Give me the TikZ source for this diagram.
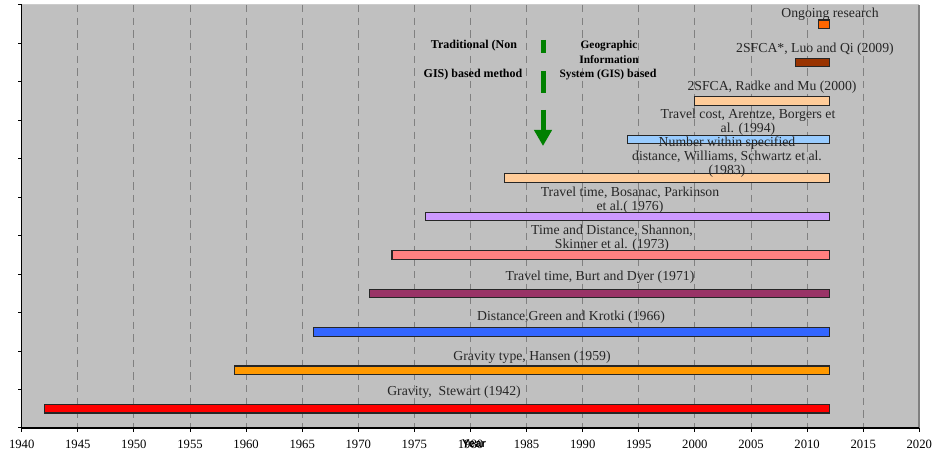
\documentclass[tikz,border=0pt]{standalone}
\usepackage{fontspec}
\setmainfont{Liberation Serif}
\newfontfamily\axisfont{Liberation Sans}
\usepackage{xcolor}
\usetikzlibrary{arrows.meta,positioning}

\definecolor{plotgray}{HTML}{C0C0C0}
\definecolor{gridgray}{HTML}{808080}
\definecolor{barred}{HTML}{FF0000}
\definecolor{barorange}{HTML}{FF9900}
\definecolor{barblue}{HTML}{3366FF}
\definecolor{barplum}{HTML}{993366}
\definecolor{barsalmon}{HTML}{FF8080}
\definecolor{barlilac}{HTML}{CC99FF}
\definecolor{barpeach}{HTML}{FFCC99}
\definecolor{barsky}{HTML}{99CCFF}
\definecolor{barbrown}{HTML}{993300}
\definecolor{barflame}{HTML}{FF6600}
\definecolor{arrowgreen}{HTML}{008000}

\tikzset{
    bar/.style={draw=black!85, line width=0.8pt},
    lbl/.style={font=\fontsize{10.3}{10.5}\selectfont, align=center, inner sep=0pt, text=black!85},
    yearlbl/.style={font=\fontsize{9.5}{11}\selectfont, inner sep=0pt},
    method/.style={font=\bfseries\fontsize{9}{10}\selectfont, inner sep=0pt, align=center},
    gridline/.style={gridgray, line width=0.75pt, dash pattern=on 5.5pt off 4pt}
}

\begin{document}
\begin{tikzpicture}[x=0.75pt,y=-0.75pt]
                \useasboundingbox (0,0) rectangle (934,452);

                % plot area
                \fill[plotgray] (21.7,5) rectangle (919,428);
                \draw[gray!40, line width=0.75pt] (21.7,5) -- (919,5);
                \draw[gridgray, line width=0.9pt] (919,5) -- (919,428);
                \foreach \yr in {1945,1950,...,2015}
                    \draw[gridline] ({21.7+11.22*(\yr-1940)},5) -- ++(0,423);

                % axes
                \draw[black, line width=0.9pt] (21.7,5) -- (21.7,428) -- (919,428);
                \foreach \k in {0,...,11}
                    \draw[black, line width=0.75pt] (21.7,{5+38.45*\k}) -- ++(-4,0);
                \foreach \yr in {1940,1945,...,2020} {
                    \draw[black, line width=0.75pt] ({21.7+11.22*(\yr-1940)},428) -- ++(0,4);
                    \node[yearlbl] (yr\yr) at ({21.7+11.22*(\yr-1940)},444) {\yr};
                }
                \node[font=\axisfont\bfseries\fontsize{8.5}{10}\selectfont, inner sep=0pt]
                                        (yearaxis) at (474,444) {Year};

                % bars
                \draw[bar, fill=barred]    (44.1,404.4)  rectangle (829.5,413.0);
                \draw[bar, fill=barorange] (234.9,366.0) rectangle (829.5,374.5);
                \draw[bar, fill=barblue]   (313.4,327.5) rectangle (829.5,336.1);
                \draw[bar, fill=barplum]   (369.5,289.1) rectangle (829.5,297.7);
                \draw[bar, fill=barsalmon] (392.0,250.6) rectangle (829.5,259.2);
                \draw[bar, fill=barlilac]  (425.6,212.2) rectangle (829.5,220.7);
                \draw[bar, fill=barpeach]  (504.2,173.7) rectangle (829.5,182.3);
                \draw[bar, fill=barsky]    (627.6,135.3) rectangle (829.5,143.8);
                \draw[bar, fill=barpeach]  (694.9,96.8)  rectangle (829.5,105.4);
                \draw[bar, fill=barbrown]  (795.9,58.4)  rectangle (829.5,66.9);
                \draw[bar, fill=barflame]  (818.3,20.0)  rectangle (829.5,28.5);

                % bar labels
                \node[lbl] (gravity)  at (454,392) {Gravity,\ \ Stewart (1942)};
                \node[lbl] (gravtype) at (532,357) {Gravity type, Hansen (1959)};
                \node[lbl] (green)    at (571,317) {Distance,Green and Krotki (1966)};
                \node[lbl] (burt)     at (600,277) {Travel time, Burt and Dyer (1971)};
                \node[lbl] (shannon)  at (612,238) {Time and Distance, Shannon,\\Skinner et al. (1973)};
                \node[lbl] (bosanac)  at (630,200) {Travel time, Bosanac, Parkinson\\et al.( 1976)};
                \node[lbl] (williams) at (727,157) {Number within specified\\distance, Williams, Schwartz et al.\\(1983)};
                \node[lbl] (arentze)  at (748,122) {Travel cost, Arentze, Borgers et\\al. (1994)};
                \node[lbl] (radke)    at (772,87)  {2SFCA, Radke and Mu (2000)};
                \node[lbl] (luo)      at (815,49)  {2SFCA*, Luo and Qi (2009)};
                \node[lbl] (ongoing)  at (830,14)  {Ongoing research};

                % method split
                \node[method] (trad1) at (474,46) {Traditional (Non};
                \node[method] (trad2) at (473,75) {GIS) based method};
                \node[method, font=\bfseries\fontsize{8.5}{10}\selectfont] (gis1) at (609,46) {Geographic};
                \node[method, font=\bfseries\fontsize{8.5}{10}\selectfont] (gis2) at (609,60) {Information};
                \node[method] (gis3) at (608,75)
                        {{\fontsize{8.5}{10}\selectfont System (GIS)} based};

                \coordinate (splita) at (543,40);
                \coordinate (splitb) at (543,53);
                \coordinate (splitc) at (543,71);
                \coordinate (splitd) at (543,93);
                \coordinate (splite) at (543,110);
                \coordinate (splitf) at (543,146);
                \draw[arrowgreen, line width=3.75pt] (splita) -- (splitb);
                \draw[arrowgreen, line width=3.75pt] (splitc) -- (splitd);
                \draw[arrowgreen, line width=3.75pt,
                        -{Triangle[length=12pt,width=12.75pt]}] (splite) -- (splitf);
\end{tikzpicture}
\end{document}
